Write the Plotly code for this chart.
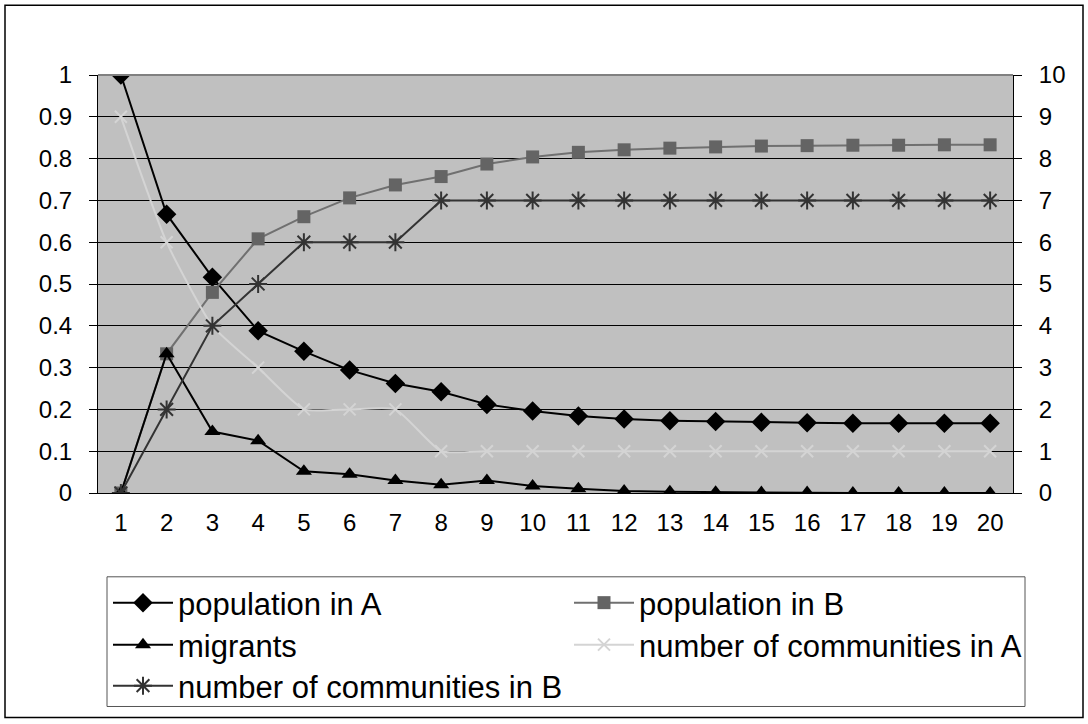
import plotly.graph_objects as go

steps = list(range(1, 21))
pop_a = [1.0, 0.667, 0.516, 0.388, 0.339, 0.294, 0.262, 0.242, 0.212, 0.196,
         0.184, 0.177, 0.173, 0.171, 0.169, 0.168, 0.167, 0.167, 0.167, 0.167]
pop_b = [0.0, 0.333, 0.480, 0.608, 0.661, 0.706, 0.737, 0.757, 0.787, 0.804,
         0.815, 0.821, 0.825, 0.828, 0.830, 0.831, 0.832, 0.832, 0.833, 0.833]
migrants = [0.0, 0.333, 0.147, 0.125, 0.052, 0.045, 0.030, 0.020, 0.030, 0.017,
            0.010, 0.005, 0.003, 0.002, 0.001, 0.001, 0.0, 0.0, 0.0, 0.0]
comm_a = [9, 6, 4, 3, 2, 2, 2, 1, 1, 1, 1, 1, 1, 1, 1, 1, 1, 1, 1, 1]
comm_b = [0, 2, 4, 5, 6, 6, 6, 7, 7, 7, 7, 7, 7, 7, 7, 7, 7, 7, 7, 7]
left_ticks = [0, 0.1, 0.2, 0.3, 0.4, 0.5, 0.6, 0.7, 0.8, 0.9, 1]
left_labels = ["0", "0.1", "0.2", "0.3", "0.4", "0.5", "0.6", "0.7", "0.8", "0.9", "1"]
right_ticks = list(range(0, 11))

W, H = 1088, 724
# plot area in page pixels: left 98, right 1013, top 75, bottom 494
ML, MT = 98, 75
MR = W - 1013
MB = H - 494
PW = W - ML - MR
PH = H - MT - MB

def px_x(p):
    return (p - ML) / PW

def px_y(p):
    return (H - MB - p) / PH

FONT = "Liberation Sans, Arial, sans-serif"
TICK_SIZE = 24
LEG_SIZE = 31

fig = go.Figure()
fig.add_trace(go.Scatter(x=steps, y=pop_a, name="population in A", mode="lines+markers",
                         legend="legend",
                         line=dict(color="#000000", width=2),
                         marker=dict(symbol="diamond", size=15, color="#000000")))
fig.add_trace(go.Scatter(x=steps, y=pop_b, name="population in B", mode="lines+markers",
                         legend="legend2",
                         line=dict(color="#707070", width=2),
                         marker=dict(symbol="square", size=13, color="#646464")))
fig.add_trace(go.Scatter(x=steps, y=migrants, name="migrants", mode="lines+markers",
                         legend="legend3",
                         line=dict(color="#000000", width=2),
                         marker=dict(symbol="triangle-up", size=14, color="#000000")))
fig.add_trace(go.Scatter(x=steps, y=comm_a, name="number of communities in A", mode="lines+markers",
                         yaxis="y2", legend="legend4",
                         line=dict(color="#d4d4d4", width=2, shape="spline", smoothing=0.5),
                         marker=dict(symbol="x-thin-open", size=12,
                                     line=dict(color="#d4d4d4", width=2))))
fig.add_trace(go.Scatter(x=steps, y=comm_b, name="number of communities in B", mode="lines+markers",
                         yaxis="y2", legend="legend5",
                         line=dict(color="#333333", width=2),
                         marker=dict(symbol="asterisk-open", size=15,
                                     line=dict(color="#333333", width=2))))

def leg(xpx, ypx):
    return dict(orientation="v", x=px_x(xpx), y=px_y(ypx), xanchor="left", yanchor="middle",
                bgcolor="rgba(0,0,0,0)", borderwidth=0, itemwidth=60,
                font=dict(family=FONT, size=LEG_SIZE, color="black"))

COL1, COL2 = 108, 569
ROW1, ROW2, ROW3 = 603, 645, 686

fig.update_layout(
    width=W, height=H,
    margin=dict(l=ML, r=MR, t=MT, b=MB),
    paper_bgcolor="white",
    plot_bgcolor="#c0c0c0",
    font=dict(family=FONT, size=TICK_SIZE, color="black"),
    showlegend=True,
    legend=leg(COL1, ROW1),
    legend2=leg(COL2, ROW1),
    legend3=leg(COL1, ROW2),
    legend4=leg(COL2, ROW2),
    legend5=leg(COL1, ROW3),
    xaxis=dict(range=[0.5, 20.5], tickmode="array", tickvals=steps,
               ticktext=[str(s) for s in steps], showgrid=False, zeroline=False,
               showline=True, linecolor="black", linewidth=1, ticks="",
               ticklabelstandoff=8,
               tickfont=dict(family=FONT, size=TICK_SIZE), fixedrange=True),
    yaxis=dict(range=[0, 1], tickmode="array", tickvals=left_ticks, ticktext=left_labels,
               showgrid=True, gridcolor="#000000", gridwidth=1, zeroline=False,
               showline=True, linecolor="black", linewidth=1, ticks="outside",
               ticklen=8, tickcolor="black", ticklabelstandoff=12,
               tickfont=dict(family=FONT, size=TICK_SIZE)),
    yaxis2=dict(range=[0, 10], tickmode="array", tickvals=right_ticks, overlaying="y",
                side="right", showgrid=False, zeroline=False, showline=True,
                linecolor="black", linewidth=1, ticks="outside", ticklen=8,
                tickcolor="black", ticklabelstandoff=12,
                tickfont=dict(family=FONT, size=TICK_SIZE)),
    shapes=[
        dict(type="rect", xref="paper", yref="paper", x0=px_x(5), x1=px_x(1083),
             y0=px_y(719), y1=px_y(5), line=dict(color="black", width=1.5), layer="below"),
        dict(type="rect", xref="paper", yref="paper", x0=px_x(107), x1=px_x(1025),
             y0=px_y(708), y1=px_y(578), line=dict(color="#555555", width=1), layer="below"),
        dict(type="line", xref="paper", yref="paper", x0=0, x1=1, y0=1, y1=1,
             line=dict(color="#808080", width=2)),
    ],
)

fig.write_html("out.html", config={"displayModeBar": False},
               post_script="document.body.style.margin='0';document.body.style.overflow='hidden';")
